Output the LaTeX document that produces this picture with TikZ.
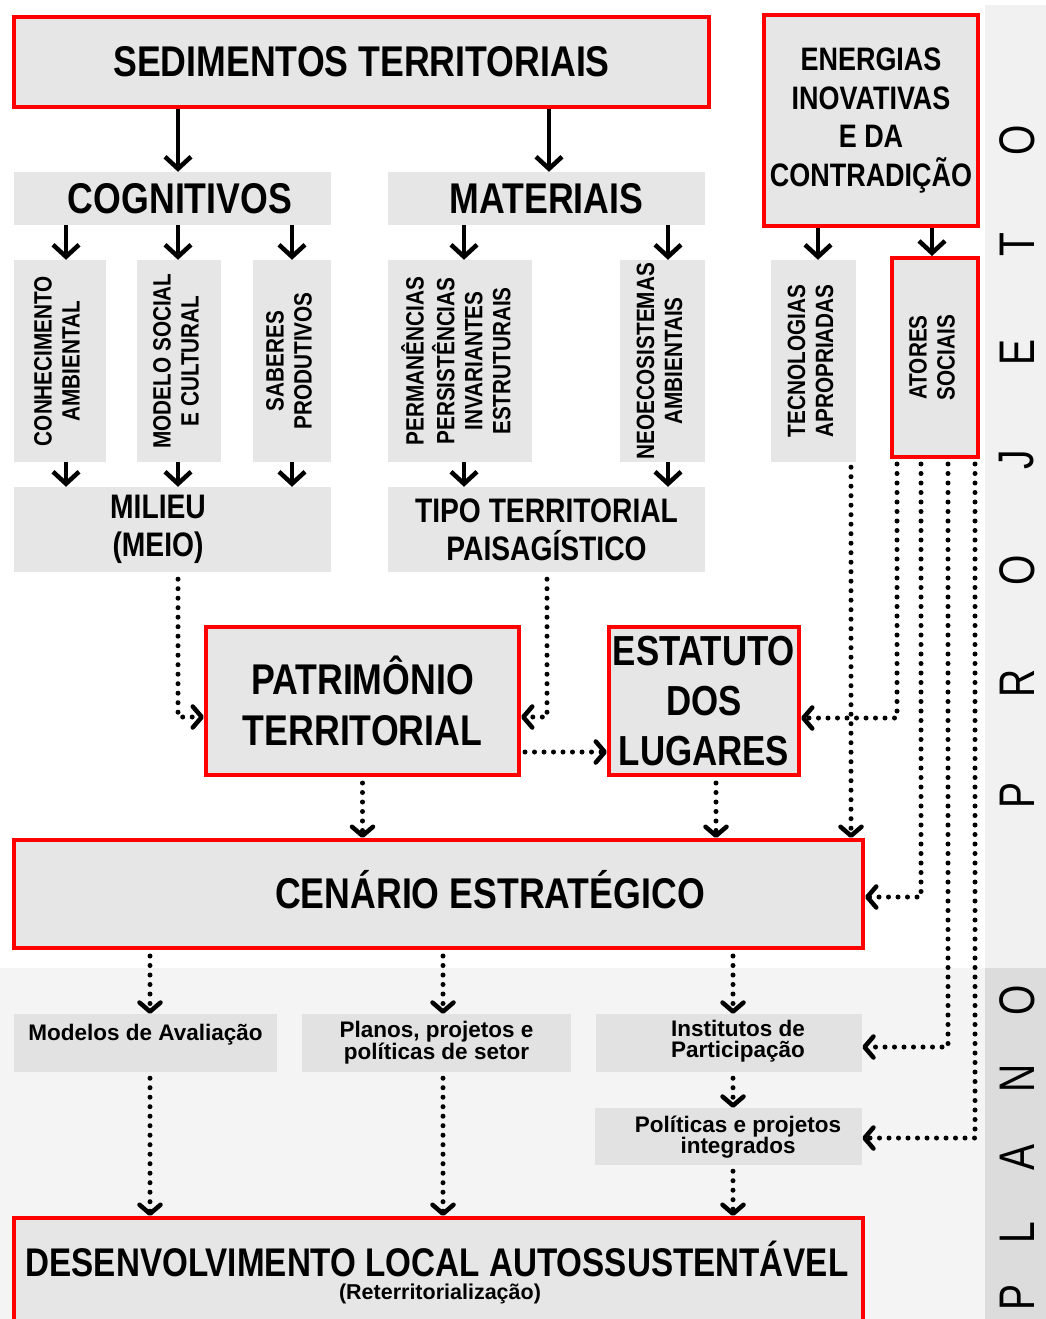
\documentclass[tikz,border=0pt]{standalone}
\usepackage{fontspec}
\usepackage{graphicx}
\setmainfont{Liberation Sans}
\newfontfamily\cf[FakeStretch=0.83]{Liberation Sans}
\newfontfamily\pf[FakeStretch=0.78]{Liberation Sans}
\usetikzlibrary{arrows.meta}
\definecolor{boxg}{HTML}{E6E6E6}
\definecolor{redb}{HTML}{FF0000}
\definecolor{stripg}{HTML}{F1F1F1}
\definecolor{bandg}{HTML}{F4F4F4}
\definecolor{planog}{HTML}{DCDCDC}
\definecolor{lowbox}{HTML}{E2E2E2}
\newcommand\vtext[1]{\rotatebox{90}{\begin{tabular}{@{}c@{}}#1\end{tabular}}}
\begin{document}
\begin{tikzpicture}[x=1pt,y=-1pt,
  box/.style={fill=boxg, draw=none, inner sep=0pt, align=center, text=black},
  vbox/.style={fill=boxg, draw=none, inner sep=0pt, text=black, font=\cf\bfseries\fontsize{25}{28}\selectfont},
  rbox/.style={box, draw=redb, line width=4pt},
  lbox/.style={fill=lowbox, draw=none, inner sep=0pt, align=center, font=\bfseries\fontsize{22.5}{21}\selectfont},
  tA/.style={font=\cf\bfseries\fontsize{43}{51}\selectfont},
  tE/.style={font=\cf\bfseries\fontsize{32.5}{38.5}\selectfont},
  tM/.style={font=\cf\bfseries\fontsize{34}{38}\selectfont},
  tS/.style={font=\cf\bfseries\fontsize{42}{50}\selectfont},
  letter/.style={font=\pf\fontsize{50}{50}\selectfont, rotate=90, inner sep=0pt},
  arr/.style={line width=4.5pt, -{Straight Barb[length=12pt,width=26pt]}},
  dots/.style={line width=5pt, line cap=round, dash pattern=on 0pt off 9.5pt,
    -{Straight Barb[round,length=9pt,width=21pt,line width=4.5pt]}}]
\useasboundingbox (0,0) rectangle (1046,1319);
\clip (0,0) rectangle (1046,1319);
\fill[white] (0,0) rectangle (1046,1319);
\fill[stripg] (985,5) rectangle (1046,968);
\fill[bandg] (0,968) rectangle (985,1319);
\fill[planog] (985,968) rectangle (1046,1319);

% x positions
\foreach \v in {66,150,178,292,443,464,547,549,668,716,733,818,851,897,921,932,948,975}
  \coordinate (X\v) at (\v,0);

% top level
\node[rbox, minimum width=695pt, minimum height=90pt, tA] (sed) at (361.5,62) {SEDIMENTOS TERRITORIAIS};
\node[rbox, minimum width=214pt, minimum height=211pt, tE] (ene) at (871,120.5) {ENERGIAS\\INOVATIVAS\\E DA\\CONTRADIÇÃO};
\node[box, minimum width=317pt, minimum height=53pt] (cog) at (172.5,198.5) {};
\node[tA, inner sep=0pt] (cogT) at (180,198.5) {COGNITIVOS};
\node[box, minimum width=317pt, minimum height=53pt, tA] (mat) at (546.5,198.5) {MATERIAIS};

% vertical boxes
\node[vbox, minimum width=92pt, minimum height=202pt] (con) at (60,361) {\vtext{CONHECIMENTO\\AMBIENTAL}};
\node[vbox, minimum width=84pt, minimum height=202pt] (mod) at (179,361) {\vtext{MODELO SOCIAL\\E CULTURAL}};
\node[vbox, minimum width=78pt, minimum height=202pt] (sab) at (292,361) {\vtext{SABERES\\PRODUTIVOS}};
\node[vbox, minimum width=144pt, minimum height=202pt] (per) at (460,361) {\vtext{PERMANÊNCIAS\\PERSISTÊNCIAS\\INVARIANTES\\ESTRUTURAIS}};
\node[vbox, minimum width=85pt, minimum height=202pt] (neo) at (662.5,361) {\vtext{NEOECOSISTEMAS\\AMBIENTAIS}};
\node[vbox, minimum width=85pt, minimum height=202pt] (tec) at (813.5,361) {\vtext{TECNOLOGIAS\\APROPRIADAS}};
\node[vbox, draw=redb, line width=4pt, minimum width=86pt, minimum height=199pt] (ato) at (935,357.5) {\vtext{ATORES\\SOCIAIS}};

% middle
\node[box, minimum width=317pt, minimum height=85pt] (mil) at (172.5,529.5) {};
\node[tM, align=center, inner sep=0pt] (milT) at (158,529.5) {MILIEU\\(MEIO)};
\node[box, minimum width=317pt, minimum height=85pt, tM] (tip) at (546.5,529.5) {TIPO TERRITORIAL\\PAISAGÍSTICO};
\node[rbox, minimum width=313pt, minimum height=148pt, tA] (pat) at (362.5,701) {PATRIMÔNIO\\TERRITORIAL};
\node[rbox, minimum width=190pt, minimum height=148pt, tS] (est) at (704,701) {ESTATUTO\\DOS\\LUGARES};
\node[rbox, minimum width=849pt, minimum height=108pt] (cen) at (438.5,894) {};
\node[tA, anchor=base, inner sep=0pt] (cenT) at (490,908.5) {CENÁRIO ESTRATÉGICO};

% lower
\node[lbox, minimum width=263pt, minimum height=58pt] (mdl) at (145.5,1043) {Modelos de Avaliação\\\mbox{}};
\node[lbox, minimum width=269pt, minimum height=58pt] (pla) at (436.5,1043) {Planos, projetos e\\políticas de setor};
\node[lbox, minimum width=266pt, minimum height=58pt] (ins) at (729,1043) {};
\node[lbox, inner sep=0pt] (insT) at (738,1041) {Institutos de\\Participação};
\node[lbox, minimum width=267pt, minimum height=57pt] (pol) at (728.5,1136.5) {};
\node[lbox, inner sep=0pt] (polT) at (738,1137) {Políticas e projetos\\integrados};
\node[rbox, minimum width=849pt, minimum height=122pt] (des) at (438.5,1279) {};
\node[font=\cf\bfseries\fontsize{40}{40}\selectfont, anchor=base, inner sep=0pt] (desT) at (437,1276) {DESENVOLVIMENTO LOCAL AUTOSSUSTENTÁVEL};
\node[font=\bfseries\fontsize{21.5}{21.5}\selectfont, anchor=base, inner sep=0pt] (desS) at (440,1299) {(Reterritorialização)};

% side letters
\node[letter] (pj1) at (1017,795) {P};
\node[letter] (pj2) at (1017,683) {R};
\node[letter] (pj3) at (1017,570) {O};
\node[letter] (pj4) at (1017,460) {J};
\node[letter] (pj5) at (1017,352) {E};
\node[letter] (pj6) at (1017,245) {T};
\node[letter] (pj7) at (1017,140) {O};
\node[letter] (pl1) at (1017,1297) {P};
\node[letter] (pl2) at (1017,1233) {L};
\node[letter] (pl3) at (1017,1157) {A};
\node[letter] (pl4) at (1017,1078) {N};
\node[letter] (pl5) at (1017,1000) {O};

% solid arrows
\draw[arr] (sed.south -| X178) -- (cog.north -| X178);
\draw[arr] (sed.south -| X549) -- (mat.north -| X549);
\draw[arr] (cog.south -| X66) -- (con.north -| X66);
\draw[arr] (cog.south -| X178) -- (mod.north -| X178);
\draw[arr] (cog.south -| X292) -- (sab.north -| X292);
\draw[arr] (mat.south -| X464) -- (per.north -| X464);
\draw[arr] (mat.south -| X668) -- (neo.north -| X668);
\draw[arr] (ene.south -| X818) -- (tec.north -| X818);
\draw[arr] (ene.south -| X932) -- (ato.north -| X932);
\draw[arr] (con.south -| X66) -- (mil.north -| X66);
\draw[arr] (mod.south -| X178) -- (mil.north -| X178);
\draw[arr] (sab.south -| X292) -- (mil.north -| X292);
\draw[arr] (per.south -| X464) -- (tip.north -| X464);
\draw[arr] (neo.south -| X668) -- (tip.north -| X668);

% dotted arrows
\draw[dots] ([yshift=-7pt]mil.south -| X178) |- ([yshift=-16pt]pat.west);
\draw[dots] ([yshift=-7pt]tip.south -| X547) |- ([yshift=-16pt]pat.east);
\draw[dots] ([yshift=-51pt,xshift=4pt]pat.east) -- ([yshift=-51pt]est.west);
\draw[dots] ([yshift=-5pt]ato.south -| X897) |- ([yshift=-17pt]est.east);
\draw[dots] ([yshift=-5pt]tec.south -| X851) -- (cen.north -| X851);
\draw[dots] ([yshift=-5pt]ato.south -| X921) |- ([yshift=-3pt]cen.east);
\draw[dots] ([yshift=-5pt]ato.south -| X948) |- ([yshift=-4pt]ins.east);
\draw[dots] ([yshift=-5pt]ato.south -| X975) |- ([yshift=-1.5pt]pol.east);
\draw[dots] ([yshift=-6pt]pat.south) -- (cen.north -| pat.south);
\draw[dots] ([yshift=-6pt]est.south -| X716) -- (cen.north -| X716);
\draw[dots] ([yshift=-6pt]cen.south -| X150) -- (mdl.north -| X150);
\draw[dots] ([yshift=-6pt]cen.south -| X443) -- (pla.north -| X443);
\draw[dots] ([yshift=-6pt]cen.south -| X733) -- (ins.north -| X733);
\draw[dots] ([yshift=-6pt]mdl.south -| X150) -- (des.north -| X150);
\draw[dots] ([yshift=-6pt]pla.south -| X443) -- (des.north -| X443);
\draw[dots] ([yshift=-6pt]ins.south -| X733) -- (pol.north -| X733);
\draw[dots] ([yshift=-6pt]pol.south -| X733) -- (des.north -| X733);
\end{tikzpicture}
\end{document}
